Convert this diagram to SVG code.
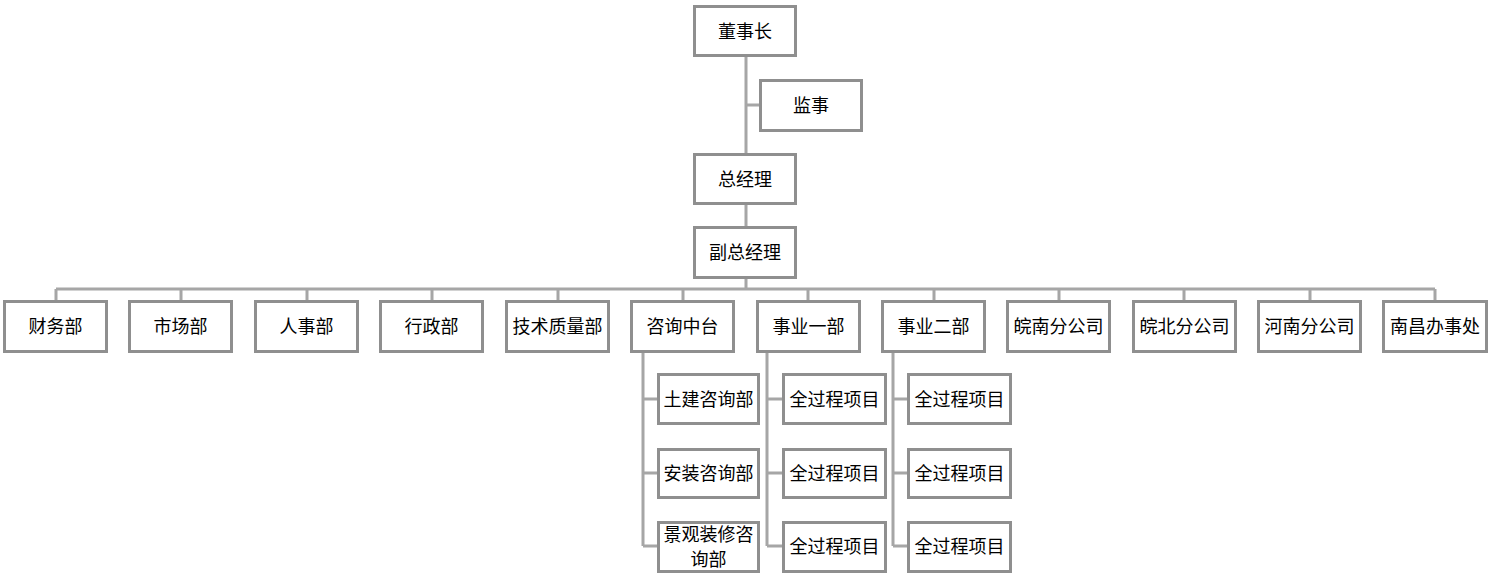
<svg xmlns="http://www.w3.org/2000/svg" width="1495" height="580" viewBox="0 0 1495 580">
<style>
.b{fill:#fff;stroke:#8f8f8f;stroke-width:3}
.t{font-family:"Noto Sans CJK SC","Liberation Sans",sans-serif;font-size:18px;fill:#000;text-anchor:middle;dominant-baseline:central}
.c{fill:none;stroke:#a6a6a6;stroke-width:3}
</style>
<rect width="1495" height="580" fill="#fff"/>
<g id="connectors" class="c">
<path d="M746 57V153M746 105H760M746 204V226M746 278V289M56 289H1435"/>
<path d="M56 289V301M181 289V301M307 289V301M432 289V301M558 289V301M683 289V301M808 289V301M934 289V301M1059 289V301M1184 289V301M1310 289V301M1435 289V301"/>
<path d="M643 352V546M643 399H657M643 473H657M643 546H657"/>
<path d="M767 352V546M767 399H782M767 473H782M767 546H782"/>
<path d="M893 352V546M893 399H907M893 473H907M893 546H907"/>
</g>
<g id="n-dsz"><rect class="b" x="694.5" y="6.5" width="101" height="49"/><text class="t" x="745" y="29.5">董事长</text></g>
<g id="n-js"><rect class="b" x="760.5" y="80.5" width="101" height="50"/><text class="t" x="811" y="103.5">监事</text></g>
<g id="n-zjl"><rect class="b" x="694.5" y="154.5" width="101" height="49"/><text class="t" x="745" y="177.5">总经理</text></g>
<g id="n-fzjl"><rect class="b" x="694.5" y="227.5" width="101" height="50"/><text class="t" x="745" y="250.5">副总经理</text></g>
<g id="n-cwb"><rect class="b" x="4.5" y="301.5" width="102" height="50"/><text class="t" x="55.5" y="324.5">财务部</text></g>
<g id="n-scb"><rect class="b" x="129.5" y="301.5" width="102" height="50"/><text class="t" x="180.5" y="324.5">市场部</text></g>
<g id="n-rsb"><rect class="b" x="255.5" y="301.5" width="102" height="50"/><text class="t" x="306.5" y="324.5">人事部</text></g>
<g id="n-xzb"><rect class="b" x="380.5" y="301.5" width="102" height="50"/><text class="t" x="431.5" y="324.5">行政部</text></g>
<g id="n-jszlb"><rect class="b" x="506.5" y="301.5" width="102" height="50"/><text class="t" x="557.5" y="324.5">技术质量部</text></g>
<g id="n-zxzt"><rect class="b" x="631.5" y="301.5" width="102" height="50"/><text class="t" x="682.5" y="324.5">咨询中台</text></g>
<g id="n-sy1"><rect class="b" x="757.5" y="301.5" width="102" height="50"/><text class="t" x="808.5" y="324.5">事业一部</text></g>
<g id="n-sy2"><rect class="b" x="882.5" y="301.5" width="102" height="50"/><text class="t" x="933.5" y="324.5">事业二部</text></g>
<g id="n-wn"><rect class="b" x="1007.5" y="301.5" width="102" height="50"/><text class="t" x="1058.5" y="324.5">皖南分公司</text></g>
<g id="n-wb"><rect class="b" x="1133.5" y="301.5" width="102" height="50"/><text class="t" x="1184.5" y="324.5">皖北分公司</text></g>
<g id="n-hn"><rect class="b" x="1258.5" y="301.5" width="102" height="50"/><text class="t" x="1309.5" y="324.5">河南分公司</text></g>
<g id="n-nc"><rect class="b" x="1383.5" y="301.5" width="103" height="50"/><text class="t" x="1435" y="324.5">南昌办事处</text></g>
<g id="n-tj"><rect class="b" x="658.5" y="374.5" width="100" height="49"/><text class="t" x="708.5" y="397.5">土建咨询部</text></g>
<g id="n-az"><rect class="b" x="658.5" y="449.5" width="100" height="48"/><text class="t" x="708.5" y="471.5">安装咨询部</text></g>
<g id="n-jg"><rect class="b" x="658.5" y="522.5" width="100" height="49"/><text class="t" x="708.5" y="533">景观装修咨</text><text class="t" x="708.5" y="558">询部</text></g>
<g id="n-p11"><rect class="b" x="783.5" y="374.5" width="102" height="49"/><text class="t" x="834.5" y="397.5">全过程项目</text></g>
<g id="n-p12"><rect class="b" x="783.5" y="449.5" width="102" height="48"/><text class="t" x="834.5" y="471.5">全过程项目</text></g>
<g id="n-p13"><rect class="b" x="783.5" y="522.5" width="102" height="49"/><text class="t" x="834.5" y="544.5">全过程项目</text></g>
<g id="n-p21"><rect class="b" x="908.5" y="374.5" width="102" height="49"/><text class="t" x="959.5" y="397.5">全过程项目</text></g>
<g id="n-p22"><rect class="b" x="908.5" y="449.5" width="102" height="48"/><text class="t" x="959.5" y="471.5">全过程项目</text></g>
<g id="n-p23"><rect class="b" x="908.5" y="522.5" width="102" height="49"/><text class="t" x="959.5" y="544.5">全过程项目</text></g>
</svg>
